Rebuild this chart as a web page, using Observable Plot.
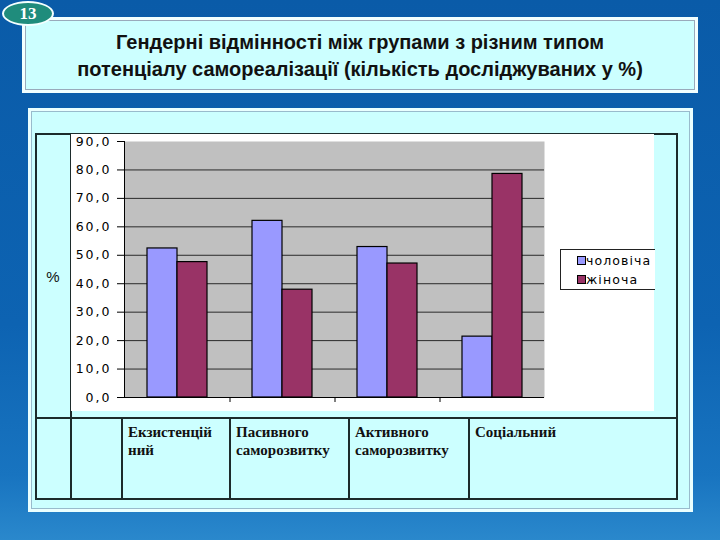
<!DOCTYPE html>
<html>
<head>
<meta charset="utf-8">
<script src="https://cdn.jsdelivr.net/npm/d3@7"></script>
<script src="https://cdn.jsdelivr.net/npm/@observablehq/plot@0.6"></script>
<style>
  html, body { margin: 0; padding: 0; }
  #slide { position: relative; width: 720px; height: 540px; overflow: hidden;
    background: linear-gradient(to bottom, #0a5ba8 0%, #0d63b2 60%, #1874c0 88%, #2a88cc 100%); font-family: "Liberation Sans", Arial, sans-serif; }
  .abs { position: absolute; box-sizing: border-box; }
  #titlebox { left: 22px; top: 17px; width: 676px; height: 76px; background: #ccffff;
    border: 3px solid #f2ffff; box-shadow: inset 0 0 0 1px #9ab; text-align: center;
    font-weight: bold; font-size: 20px; line-height: 27px; color: #111; padding-top: 9px; }
  #badge { left: 2px; top: 1px; width: 52px; height: 25px; border-radius: 50%; background: #1f8c7c;
    border: 2px solid #f4ffff; color: #fff; font-family: "Liberation Serif", serif; font-weight: bold;
    font-size: 17px; text-align: center; line-height: 21px; }
  #panel { left: 28px; top: 108px; width: 665px; height: 404px; background: #ccffff; border: 3px solid #eaffff; box-shadow: inset 0 0 0 1px #9bc; }
  .line { background: #1d2b2b; }
  .cell { font-family: "Liberation Serif", serif; font-weight: bold; font-size: 15px; line-height: 18px; color: #111; white-space: pre-line; }
  #legend { left: 560px; top: 249px; width: 95px; height: 41px; border: 1px solid #222; border-right: none; background: white;
    font-family: "DejaVu Sans", sans-serif; font-size: 12.5px; letter-spacing: 1.1px; color: #000; }
  .sw { display: inline-block; width: 7px; height: 7px; border: 1px solid #000; margin-right: 0px; vertical-align: 0px; }
</style>
</head>
<body>
<div id="slide">
  <div id="titlebox" class="abs"></div>
  <div id="badge" class="abs">13</div>
  <div id="panel" class="abs"></div>
  <div id="table"></div>
  <div id="chart" class="abs" style="left:71px; top:134px;"></div>
  <div id="legend" class="abs"></div>
</div>
<script>
const titleLines = ["Гендерні відмінності між групами з різним типом", "потенціалу самореалізації (кількість досліджуваних у %)"];
const categories = ["Екзистенційний", "Пасивного саморозвитку", "Активного саморозвитку", "Соціальний"];
const categoryLabels = ["Екзистенцій\nний", "Пасивного\nсаморозвитку", "Активного\nсаморозвитку", "Соціальний"];
const seriesNames = ["чоловіча", "жіноча"];
const maleValues = [52.4, 62.1, 52.9, 21.4];
const femaleValues = [47.6, 37.9, 47.1, 78.6];
const seriesColors = ["#9999ff", "#993366"];
const yTicks = [0, 10, 20, 30, 40, 50, 60, 70, 80, 90];
const yAxisLabel = "%";

document.getElementById("titlebox").innerHTML = titleLines.join("<br>");

// table grid
const T = document.getElementById("table");
function box(l, t, w, h, cls, html) {
  const d = document.createElement("div");
  d.className = "abs " + (cls || "");
  d.style.left = l + "px"; d.style.top = t + "px"; d.style.width = w + "px"; d.style.height = h + "px";
  if (html != null) d.textContent = html;
  T.appendChild(d);
  return d;
}
const tl = 35, tt = 133, tr = 678, tb = 500, rowY = 417;
box(tl, tt, tr - tl, 2, "line");
box(tl, tb - 2, tr - tl, 2, "line");
box(tl, tt, 2, tb - tt, "line");
box(tr - 2, tt, 2, tb - tt, "line");
box(tl, rowY, tr - tl, 2, "line");
box(70, tt, 2, tb - tt, "line");
const colX = [121, 229, 348, 468, 678];
colX.slice(0, 4).forEach(x => box(x, rowY, 2, tb - rowY, "line"));
categoryLabels.forEach((lab, i) => {
  const c = box(colX[i] + 7, rowY + 6, colX[i + 1] - colX[i] - 8, 60, "cell");
  c.textContent = lab;
});
const pct = box(36, 268, 34, 20, "");
pct.textContent = yAxisLabel;
pct.style.textAlign = "center"; pct.style.fontSize = "15px"; pct.style.color = "#111";

// data
const data = [];
categories.forEach((c, i) => {
  data.push({category: c, series: seriesNames[0], value: maleValues[i]});
  data.push({category: c, series: seriesNames[1], value: femaleValues[i]});
});
const fmt = d => d.toFixed(1).replace(".", ",");
const plotW = 583, mL = 53, mR = 110;
const step = (plotW - mL - mR) / categories.length;

const chart = Plot.plot({
  width: plotW, height: 277,
  marginTop: 7, marginBottom: 14, marginLeft: mL, marginRight: mR,
  style: {background: "white", fontFamily: "DejaVu Sans", fontSize: "12.5px", color: "#000", letterSpacing: "2px"},
  x: {type: "band", domain: categories, paddingInner: 0.7143, paddingOuter: 0.3571, axis: null},
  y: {domain: [0, 90], axis: null},
  color: {domain: seriesNames, range: seriesColors},
  marks: [
    Plot.frame({fill: "#c0c0c0", stroke: null}),
    Plot.ruleY(yTicks.filter(t => t > 0 && t < 90), {stroke: "#2a2a2a", strokeWidth: 1}),
    Plot.barY(data.filter(d => d.series === seriesNames[0]), {x: "category", y: "value", fill: "series", stroke: "#000", strokeWidth: 1.2, dx: -step * 30 / 105 / 2}),
    Plot.barY(data.filter(d => d.series === seriesNames[1]), {x: "category", y: "value", fill: "series", stroke: "#000", strokeWidth: 1.2, dx: step * 30 / 105 / 2}),
    Plot.ruleY([0], {stroke: "#000"}),
    Plot.frame({anchor: "left", stroke: "#000"}),
    Plot.axisY({ticks: yTicks, tickSize: 7, tickPadding: 6, tickFormat: fmt, label: null, stroke: "#000"}),
    Plot.axisX({ticks: categories.slice(1), tickSize: 5, tickFormat: () => "", dx: -step / 2, label: null, stroke: "#000"})
  ]
});
document.getElementById("chart").appendChild(chart);

// legend
const L = document.getElementById("legend");
seriesNames.forEach((s, i) => {
  const row = document.createElement("div");
  row.style.position = "absolute"; row.style.left = "16px"; row.style.top = (3 + i * 19) + "px"; row.style.whiteSpace = "nowrap";
  row.innerHTML = `<span class="sw" style="background:${seriesColors[i]}"></span>${s}`;
  L.appendChild(row);
});
</script>
</body>
</html>
